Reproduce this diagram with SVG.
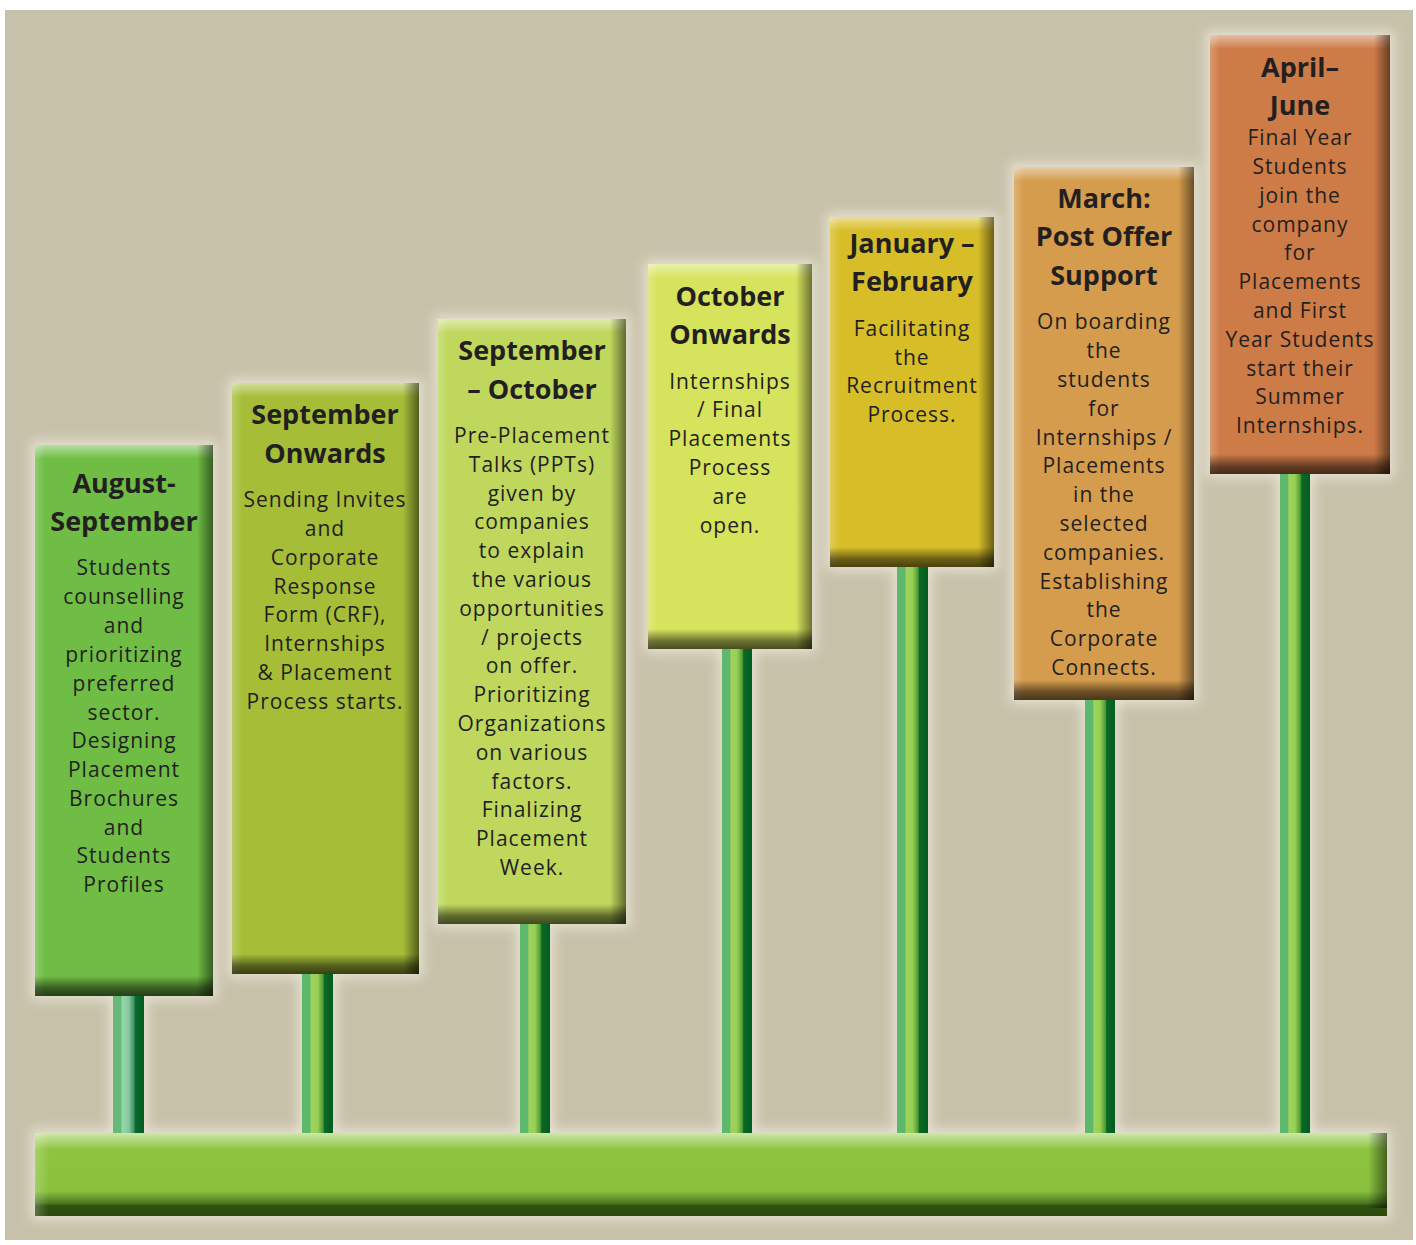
<svg xmlns="http://www.w3.org/2000/svg" width="1416" height="1245" viewBox="0 0 1416 1245">
<defs>
<style>
.t{font-family:"Open Sans","DejaVu Sans",sans-serif;font-weight:700;font-size:27px;fill:#231f20;text-anchor:middle}
.b{font-family:"Open Sans","DejaVu Sans",sans-serif;font-size:21px;fill:#231f20;text-anchor:middle;letter-spacing:1px}
.hi{fill:url(#topHi)}
.lh{fill:url(#leftHi)}
.rs{fill:url(#rightSh)}
.bs{fill:url(#botSh)}
.pole{fill:url(#poleG)}
</style>
<linearGradient id="topHi" x1="0" y1="0" x2="0" y2="1"><stop offset="0" stop-color="#fff" stop-opacity="0.5"/><stop offset="1" stop-color="#fff" stop-opacity="0"/></linearGradient>
<linearGradient id="leftHi" x1="0" y1="0" x2="1" y2="0"><stop offset="0" stop-color="#fff" stop-opacity="0.22"/><stop offset="1" stop-color="#fff" stop-opacity="0"/></linearGradient>
<linearGradient id="rightSh" x1="0" y1="0" x2="1" y2="0"><stop offset="0" stop-color="#000" stop-opacity="0"/><stop offset="1" stop-color="#000" stop-opacity="0.5"/></linearGradient>
<linearGradient id="botSh" x1="0" y1="0" x2="0" y2="1"><stop offset="0" stop-color="#000" stop-opacity="0"/><stop offset="0.6" stop-color="#000" stop-opacity="0.5"/><stop offset="1" stop-color="#000" stop-opacity="0.66"/></linearGradient>
<linearGradient id="poleG" x1="0" y1="0" x2="1" y2="0"><stop offset="0" stop-color="#5db86b"/><stop offset="0.25" stop-color="#5db86b"/><stop offset="0.3" stop-color="#9ed35c"/><stop offset="0.5" stop-color="#98cf55"/><stop offset="0.68" stop-color="#4f9a35"/><stop offset="0.72" stop-color="#0b6a26"/><stop offset="1" stop-color="#005c1f"/></linearGradient>
<linearGradient id="poleG1" x1="0" y1="0" x2="1" y2="0"><stop offset="0" stop-color="#67b97a"/><stop offset="0.25" stop-color="#67b97a"/><stop offset="0.3" stop-color="#93d8a8"/><stop offset="0.5" stop-color="#86c9a0"/><stop offset="0.68" stop-color="#3f8e66"/><stop offset="0.72" stop-color="#0b6a2a"/><stop offset="1" stop-color="#005c22"/></linearGradient>
<linearGradient id="baseG" x1="0" y1="0" x2="0" y2="1"><stop offset="0" stop-color="#cde7a9"/><stop offset="0.2" stop-color="#8dc540"/><stop offset="0.7" stop-color="#89c13e"/><stop offset="0.84" stop-color="#4c7a22"/><stop offset="0.88" stop-color="#2f5010"/><stop offset="1" stop-color="#2c4c0e"/></linearGradient>
<filter id="glow" x="-20%" y="-20%" width="140%" height="140%"><feGaussianBlur stdDeviation="6"/></filter>
</defs>
<rect x="0" y="0" width="1416" height="1245" fill="#ffffff"/>
<rect x="5" y="10" width="1408" height="1230" fill="#c8c1aa"/>
<g id="halo" fill="#ece8da" opacity="0.8" filter="url(#glow)">
<rect x="31" y="441" width="186" height="559"/>
<rect x="228" y="379" width="195" height="599"/>
<rect x="434" y="315" width="196" height="613"/>
<rect x="644" y="260" width="172" height="393"/>
<rect x="826" y="213" width="172" height="358"/>
<rect x="1010" y="163" width="188" height="541"/>
<rect x="1206" y="31" width="188" height="447"/>
<rect x="31" y="1129" width="1360" height="91"/>
<rect x="109" y="996" width="39" height="137"/>
<rect x="298" y="974" width="39" height="159"/>
<rect x="516" y="924" width="38" height="209"/>
<rect x="718" y="649" width="38" height="484"/>
<rect x="893" y="567" width="39" height="566"/>
<rect x="1081" y="700" width="38" height="433"/>
<rect x="1276" y="474" width="38" height="659"/>
</g>
<g id="connectors">
<rect x="113" y="996" width="31" height="137" fill="url(#poleG1)"/>
<rect x="302" y="974" width="31" height="159" class="pole"/>
<rect x="520" y="924" width="30" height="209" class="pole"/>
<rect x="722" y="649" width="30" height="484" class="pole"/>
<rect x="897" y="567" width="31" height="566" class="pole"/>
<rect x="1085" y="700" width="30" height="433" class="pole"/>
<rect x="1280" y="474" width="30" height="659" class="pole"/>
</g>
<g id="base">
<rect x="35" y="1133" width="1352" height="83" fill="url(#baseG)"/>
<rect x="35" y="1133" width="14" height="83" class="lh"/>
<rect x="1368" y="1133" width="19" height="75" class="rs"/>
</g>
<g id="n1">
<rect x="35" y="445" width="178" height="551" fill="#6fbd44"/>
<rect x="35" y="445" width="10" height="551" class="lh"/>
<rect x="35" y="445" width="178" height="14" class="hi"/>
<rect x="197" y="445" width="16" height="551" class="rs"/>
<rect x="35" y="976" width="178" height="20" class="bs"/>
<text class="t" x="124" y="493">August-</text>
<text class="t" x="124" y="531">September</text>
<text class="b" x="124" y="575">Students</text>
<text class="b" x="124" y="604">counselling</text>
<text class="b" x="124" y="633">and</text>
<text class="b" x="124" y="662">prioritizing</text>
<text class="b" x="124" y="691">preferred</text>
<text class="b" x="124" y="720">sector.</text>
<text class="b" x="124" y="748">Designing</text>
<text class="b" x="124" y="777">Placement</text>
<text class="b" x="124" y="806">Brochures</text>
<text class="b" x="124" y="835">and</text>
<text class="b" x="124" y="863">Students</text>
<text class="b" x="124" y="892">Profiles</text>
</g>
<g id="n2">
<rect x="232" y="383" width="187" height="591" fill="#a6bd38"/>
<rect x="232" y="383" width="10" height="591" class="lh"/>
<rect x="232" y="383" width="187" height="14" class="hi"/>
<rect x="403" y="383" width="16" height="591" class="rs"/>
<rect x="232" y="954" width="187" height="20" class="bs"/>
<text class="t" x="325" y="424">September</text>
<text class="t" x="325" y="463">Onwards</text>
<text class="b" x="325" y="507">Sending Invites</text>
<text class="b" x="325" y="536">and</text>
<text class="b" x="325" y="565">Corporate</text>
<text class="b" x="325" y="594">Response</text>
<text class="b" x="325" y="622">Form (CRF),</text>
<text class="b" x="325" y="651">Internships</text>
<text class="b" x="325" y="680">&amp; Placement</text>
<text class="b" x="325" y="709">Process starts.</text>
</g>
<g id="n3">
<rect x="438" y="319" width="188" height="605" fill="#bfd75c"/>
<rect x="438" y="319" width="10" height="605" class="lh"/>
<rect x="438" y="319" width="188" height="14" class="hi"/>
<rect x="610" y="319" width="16" height="605" class="rs"/>
<rect x="438" y="904" width="188" height="20" class="bs"/>
<text class="t" x="532" y="360">September</text>
<text class="t" x="532" y="399">– October</text>
<text class="b" x="532" y="443">Pre-Placement</text>
<text class="b" x="532" y="472">Talks (PPTs)</text>
<text class="b" x="532" y="501">given by</text>
<text class="b" x="532" y="529">companies</text>
<text class="b" x="532" y="558">to explain</text>
<text class="b" x="532" y="587">the various</text>
<text class="b" x="532" y="616">opportunities</text>
<text class="b" x="532" y="645">/ projects</text>
<text class="b" x="532" y="673">on offer.</text>
<text class="b" x="532" y="702">Prioritizing</text>
<text class="b" x="532" y="731">Organizations</text>
<text class="b" x="532" y="760">on various</text>
<text class="b" x="532" y="789">factors.</text>
<text class="b" x="532" y="817">Finalizing</text>
<text class="b" x="532" y="846">Placement</text>
<text class="b" x="532" y="875">Week.</text>
</g>
<g id="n4">
<rect x="648" y="264" width="164" height="385" fill="#d6e35d"/>
<rect x="648" y="264" width="10" height="385" class="lh"/>
<rect x="648" y="264" width="164" height="14" class="hi"/>
<rect x="796" y="264" width="16" height="385" class="rs"/>
<rect x="648" y="629" width="164" height="20" class="bs"/>
<text class="t" x="730" y="306">October</text>
<text class="t" x="730" y="344">Onwards</text>
<text class="b" x="730" y="389">Internships</text>
<text class="b" x="730" y="417">/ Final</text>
<text class="b" x="730" y="446">Placements</text>
<text class="b" x="730" y="475">Process</text>
<text class="b" x="730" y="504">are</text>
<text class="b" x="730" y="533">open.</text>
</g>
<g id="n5">
<rect x="830" y="217" width="164" height="350" fill="#d7be29"/>
<rect x="830" y="217" width="10" height="350" class="lh"/>
<rect x="830" y="217" width="164" height="14" class="hi"/>
<rect x="978" y="217" width="16" height="350" class="rs"/>
<rect x="830" y="547" width="164" height="20" class="bs"/>
<text class="t" x="912" y="253">January –</text>
<text class="t" x="912" y="291">February</text>
<text class="b" x="912" y="336">Facilitating</text>
<text class="b" x="912" y="365">the</text>
<text class="b" x="912" y="393">Recruitment</text>
<text class="b" x="912" y="422">Process.</text>
</g>
<g id="n6">
<rect x="1014" y="167" width="180" height="533" fill="#d59c4d"/>
<rect x="1014" y="167" width="10" height="533" class="lh"/>
<rect x="1014" y="167" width="180" height="14" class="hi"/>
<rect x="1178" y="167" width="16" height="533" class="rs"/>
<rect x="1014" y="680" width="180" height="20" class="bs"/>
<text class="t" x="1104" y="208">March:</text>
<text class="t" x="1104" y="246">Post Offer</text>
<text class="t" x="1104" y="285">Support</text>
<text class="b" x="1104" y="329">On boarding</text>
<text class="b" x="1104" y="358">the</text>
<text class="b" x="1104" y="387">students</text>
<text class="b" x="1104" y="416">for</text>
<text class="b" x="1104" y="445">Internships /</text>
<text class="b" x="1104" y="473">Placements</text>
<text class="b" x="1104" y="502">in the</text>
<text class="b" x="1104" y="531">selected</text>
<text class="b" x="1104" y="560">companies.</text>
<text class="b" x="1104" y="589">Establishing</text>
<text class="b" x="1104" y="617">the</text>
<text class="b" x="1104" y="646">Corporate</text>
<text class="b" x="1104" y="675">Connects.</text>
</g>
<g id="n7">
<rect x="1210" y="35" width="180" height="439" fill="#cd7b47"/>
<rect x="1210" y="35" width="10" height="439" class="lh"/>
<rect x="1210" y="35" width="180" height="14" class="hi"/>
<rect x="1374" y="35" width="16" height="439" class="rs"/>
<rect x="1210" y="454" width="180" height="20" class="bs"/>
<text class="t" x="1300" y="77">April–</text>
<text class="t" x="1300" y="115">June</text>
<text class="b" x="1300" y="145">Final Year</text>
<text class="b" x="1300" y="174">Students</text>
<text class="b" x="1300" y="203">join the</text>
<text class="b" x="1300" y="232">company</text>
<text class="b" x="1300" y="260">for</text>
<text class="b" x="1300" y="289">Placements</text>
<text class="b" x="1300" y="318">and First</text>
<text class="b" x="1300" y="347">Year Students</text>
<text class="b" x="1300" y="376">start their</text>
<text class="b" x="1300" y="404">Summer</text>
<text class="b" x="1300" y="433">Internships.</text>
</g>
</svg>
